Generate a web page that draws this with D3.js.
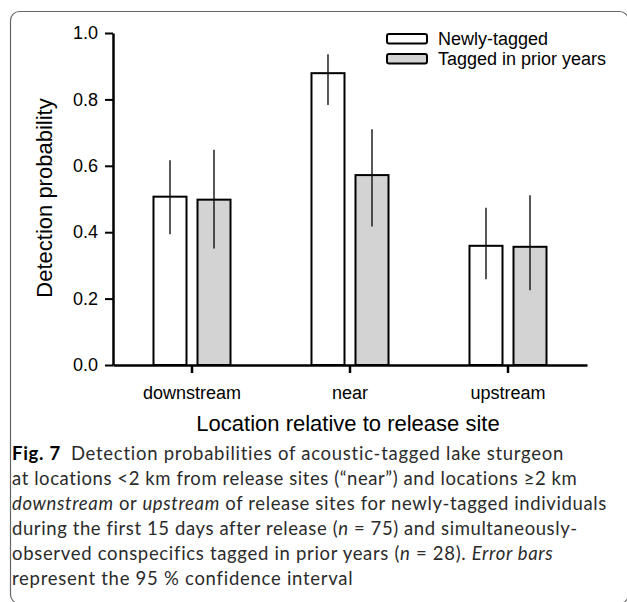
<!DOCTYPE html>
<html>
<head>
<meta charset="utf-8">
<script src="https://cdn.jsdelivr.net/npm/d3@7"></script>
<style>
  body { margin: 0; background: #fff; }
  svg { display: block; }
</style>
</head>
<body>
<div id="chart"></div>
<script>
var locations = ["downstream", "near", "upstream"];
var groups = ["Newly-tagged", "Tagged in prior years"];
var newlyTagged = [0.507, 0.879, 0.359];
var newlyLow = [0.394, 0.783, 0.258];
var newlyHigh = [0.617, 0.936, 0.474];
var priorTagged = [0.498, 0.572, 0.356];
var priorLow = [0.351, 0.417, 0.225];
var priorHigh = [0.648, 0.710, 0.511];
var yTicks = [0.0, 0.2, 0.4, 0.6, 0.8, 1.0];

var captionLines = [
  [["b", "Fig. 7"], ["s", "\u2002Detection probabilities of acoustic-tagged lake sturgeon"]],
  [["", "at locations <2 km from release sites (\u201cnear\u201d) and locations \u22652 km"]],
  [["i", "downstream"], ["", " or "], ["i", "upstream"], ["", " of release sites for newly-tagged individuals"]],
  [["", "during the first 15 days after release ("], ["i", "n"], ["", " = 75) and simultaneously-"]],
  [["", "observed conspecifics tagged in prior years ("], ["i", "n"], ["", " = 28). "], ["i", "Error bars"]],
  [["", "represent the 95 % confidence interval"]]
];
var captionWidths = [553, 566, 595, 565, 541, 341];

var width = 627, height = 602;
var fills = ["#ffffff", "#d3d3d3"];

var svg = d3.select("#chart")
  .append("svg")
  .attr("width", width)
  .attr("height", height)
  .style("font-family", "'Liberation Sans', Arial, sans-serif");

// frame round the figure
svg.append("rect")
  .attr("x", 10.5).attr("y", 11.5)
  .attr("width", 618).attr("height", 592)
  .attr("rx", 9)
  .attr("fill", "none")
  .attr("stroke", "#666")
  .attr("stroke-width", 1.2);

var x0 = d3.scaleBand().domain(locations).range([113, 587]);
var x1 = d3.scaleBand().domain(groups).range([0, x0.bandwidth()])
  .paddingInner(0.25).paddingOuter(0.92);
var y = d3.scaleLinear().domain([0, 1]).range([365, 33]);

var rows = [];
locations.forEach(function(loc, i) {
  rows.push({loc: loc, g: groups[0], v: newlyTagged[i], lo: newlyLow[i], hi: newlyHigh[i], k: 0});
  rows.push({loc: loc, g: groups[1], v: priorTagged[i], lo: priorLow[i], hi: priorHigh[i], k: 1});
});

svg.selectAll(".bar")
  .data(rows)
  .enter().append("rect")
  .attr("class", "bar")
  .attr("x", function(d) { return x0(d.loc) + x1(d.g); })
  .attr("y", function(d) { return y(d.v); })
  .attr("width", x1.bandwidth())
  .attr("height", function(d) { return y(0) - y(d.v); })
  .attr("fill", function(d) { return fills[d.k]; })
  .attr("stroke", "#000")
  .attr("stroke-width", 2);

svg.selectAll(".err")
  .data(rows)
  .enter().append("line")
  .attr("class", "err")
  .attr("x1", function(d) { return x0(d.loc) + x1(d.g) + x1.bandwidth() / 2; })
  .attr("x2", function(d) { return x0(d.loc) + x1(d.g) + x1.bandwidth() / 2; })
  .attr("y1", function(d) { return y(d.lo); })
  .attr("y2", function(d) { return y(d.hi); })
  .attr("stroke", "#111")
  .attr("stroke-width", 1.4);

// y axis
var yAxis = svg.append("g")
  .attr("transform", "translate(113,0)")
  .call(d3.axisLeft(y).tickValues(yTicks).tickFormat(d3.format(".1f")).tickSize(8).tickSizeOuter(0));
yAxis.select(".domain").attr("stroke", "#000").attr("stroke-width", 2.5);
yAxis.selectAll(".tick line").attr("stroke", "#000").attr("stroke-width", 2);
yAxis.selectAll(".tick text")
  .attr("x", -15)
  .attr("fill", "#000")
  .style("font-size", "18px")
  .style("font-family", "'Liberation Sans', Arial, sans-serif");

// x axis
var xAxis = svg.append("g")
  .attr("transform", "translate(0,365)")
  .call(d3.axisBottom(x0).tickSize(8).tickSizeOuter(0));
xAxis.select(".domain").attr("stroke", "#000").attr("stroke-width", 2.5);
xAxis.selectAll(".tick line").attr("stroke", "#000").attr("stroke-width", 2.5);
xAxis.selectAll(".tick text")
  .attr("y", 34).attr("dy", 0)
  .attr("fill", "#000")
  .style("font-size", "18px")
  .style("font-family", "'Liberation Sans', Arial, sans-serif");

svg.append("text")
  .attr("x", 348).attr("y", 431)
  .attr("text-anchor", "middle")
  .style("font-size", "22px")
  .text("Location relative to release site");

svg.append("text")
  .attr("transform", "translate(52,198) rotate(-90)")
  .attr("text-anchor", "middle")
  .style("font-size", "22px")
  .text("Detection probability");

// legend
var legend = svg.selectAll(".legend")
  .data(groups)
  .enter().append("g")
  .attr("class", "legend")
  .attr("transform", function(d, i) { return "translate(386," + (33 + i * 20) + ")"; });
legend.append("rect")
  .attr("x", 1).attr("y", 1)
  .attr("width", 40).attr("height", 9.5)
  .attr("rx", 2)
  .attr("fill", function(d, i) { return fills[i]; })
  .attr("stroke", "#000")
  .attr("stroke-width", 2);
legend.append("text")
  .attr("x", 52).attr("y", 12)
  .style("font-size", "18px")
  .text(function(d) { return d; });

// caption, spaced out so each line ends where the printed one does
var cap = svg.append("g")
  .style("font-family", "Lato, 'Open Sans', sans-serif")
  .style("font-size", "18.5px")
  .attr("fill", "#2b2b2b");

captionLines.forEach(function(line, i) {
  var t = cap.append("text")
    .attr("x", 12)
    .attr("y", 460 + i * 25);
  var n = 0;
  line.forEach(function(seg) {
    var ts = t.append("tspan").text(seg[1]);
    n += seg[1].length;
    if (seg[0] === "b") ts.style("font-weight", "bold").attr("fill", "#000");
    if (seg[0] === "i") ts.style("font-style", "italic");
  });
  var w = t.node().getComputedTextLength();
  t.style("letter-spacing", ((captionWidths[i] - w) / n) + "px");
});
</script>
</body>
</html>
